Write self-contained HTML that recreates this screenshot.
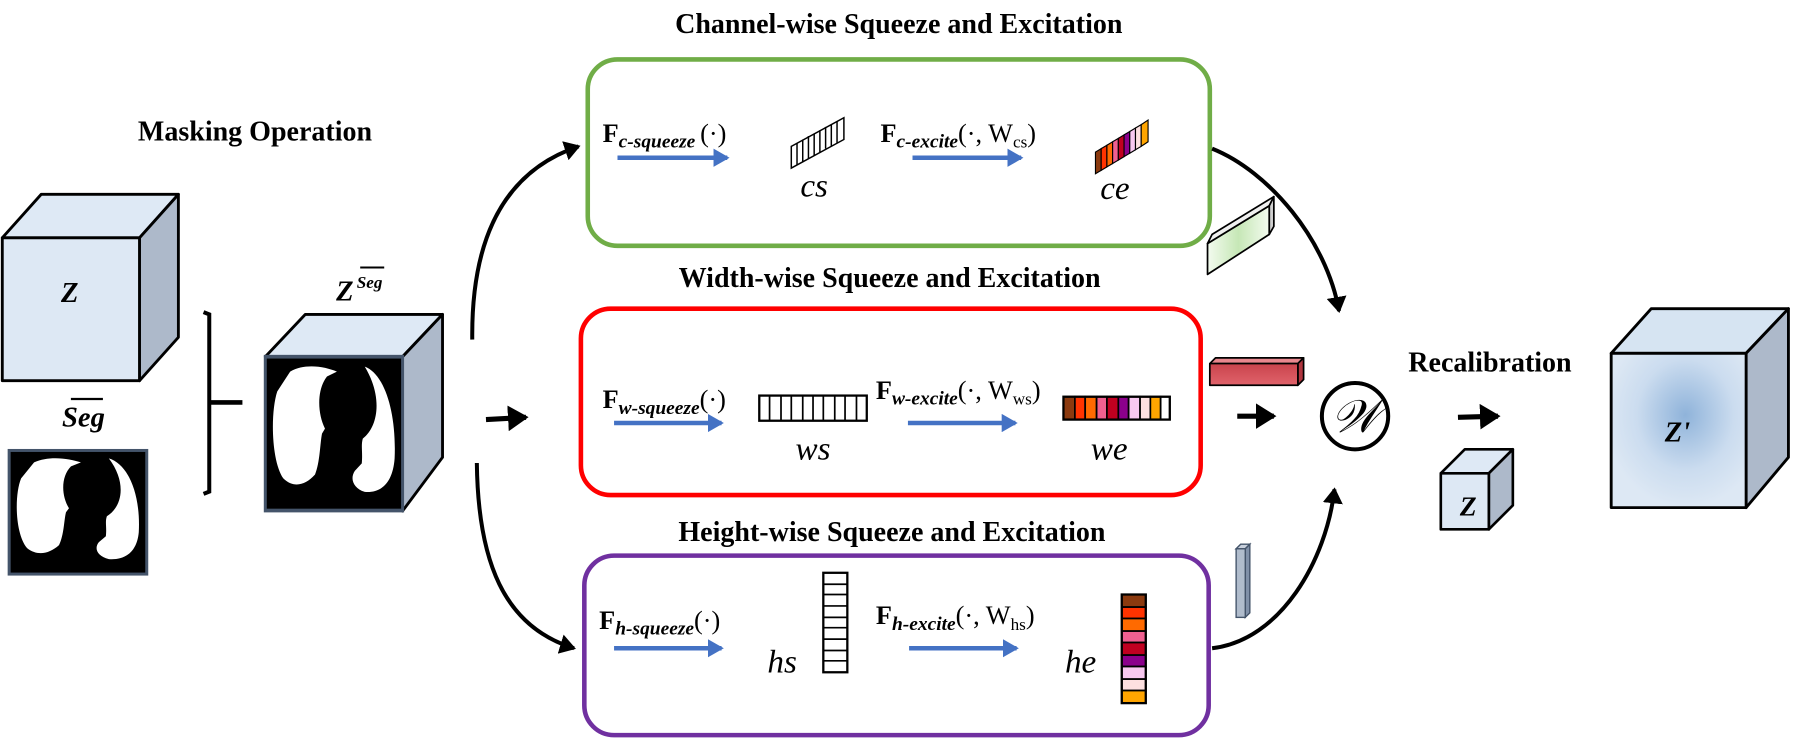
<!DOCTYPE html>
<html><head><meta charset="utf-8"><style>
html,body{margin:0;padding:0;background:#fff;}
svg{display:block;}
text{font-family:"Liberation Serif",serif;}
</style></head><body>
<svg width="1793" height="742" viewBox="0 0 1568 649" preserveAspectRatio="none" xmlns="http://www.w3.org/2000/svg">
<defs>
<marker id="ab" markerWidth="4" markerHeight="4" refX="3" refY="2" orient="auto" markerUnits="strokeWidth"><path d="M0,0 L3.5,2 L0,4 Z" fill="#4472c4"/></marker>
<marker id="ak" markerWidth="5" markerHeight="5" refX="3.5" refY="2.5" orient="auto" markerUnits="strokeWidth"><path d="M0,0 L4,2.5 L0,5 Z" fill="#000"/></marker>
<radialGradient id="rg" cx="0.55" cy="0.4" r="0.6"><stop offset="0" stop-color="#8fb3da"/><stop offset="0.6" stop-color="#cbdcef"/><stop offset="1" stop-color="#dde8f4"/></radialGradient>
<linearGradient id="gg" x1="0" y1="0" x2="1" y2="0"><stop offset="0" stop-color="#f3fbef"/><stop offset="0.5" stop-color="#c6e7b6"/><stop offset="1" stop-color="#f3fbef"/></linearGradient>
<linearGradient id="rr" x1="0" y1="0" x2="0" y2="1"><stop offset="0" stop-color="#c9434c"/><stop offset="1" stop-color="#e0636b"/></linearGradient>
<g id="lungs">
<rect x="0" y="0" width="138" height="124" fill="#000" stroke="#44546a" stroke-width="3"/>
<path d="M25,12 C40,5 60,8 72,12 L62,16 C52,26 52,45 60,58 L57,62 C55,70 55,85 50,95 C40,104 28,106 18,98 C6,84 5,45 12,28 Z" fill="#fff"/>
<path d="M100,8 C120,14 132,45 130,82 C128,104 114,110 100,109 C88,106 85,98 90,92 L97,86 C98,76 96,72 98,66 C114,56 118,32 100,8 Z" fill="#fff"/>
</g>
</defs>

<!-- titles -->
<g font-weight="bold" font-size="24.5" text-anchor="middle">
<text x="786" y="29">Channel-wise Squeeze and Excitation</text>
<text x="223" y="123">Masking Operation</text>
<text x="778" y="251">Width-wise Squeeze and Excitation</text>
<text x="780" y="473">Height-wise Squeeze and Excitation</text>
<text x="1303" y="325">Recalibration</text>
</g>

<!-- boxes -->
<rect x="514" y="52" width="544" height="163" rx="26" fill="none" stroke="#70ad47" stroke-width="4"/>
<rect x="508" y="270" width="542" height="163" rx="26" fill="none" stroke="#ff0000" stroke-width="4"/>
<rect x="511" y="486" width="546" height="157" rx="26" fill="none" stroke="#7030a0" stroke-width="4"/>

<!-- Z cube -->
<g stroke="#000" stroke-width="2.5" stroke-linejoin="round">
<polygon points="2,208 36,170 156,170 122,208" fill="#dee9f5"/>
<polygon points="122,208 156,170 156,295 122,333" fill="#adb9ca"/>
<rect x="2" y="208" width="120" height="125" fill="#dde8f4"/>
</g>
<text x="61" y="264" font-size="25" font-weight="bold" font-style="italic" text-anchor="middle">Z</text>

<!-- Seg -->
<line x1="62" y1="349" x2="90" y2="349" stroke="#000" stroke-width="2"/>
<text x="73" y="373" font-size="25" font-weight="bold" font-style="italic" text-anchor="middle">Seg</text>
<use href="#lungs" transform="translate(8,394) scale(0.872,0.872)"/>

<!-- bracket -->
<path d="M178,273 L183,275 L183,430 L178,432" fill="none" stroke="#000" stroke-width="3.5"/>
<line x1="183" y1="352" x2="212" y2="352" stroke="#000" stroke-width="4"/>

<!-- Z seg label -->
<text x="294" y="263" font-size="25" font-weight="bold" font-style="italic">Z</text>
<text x="312" y="252" font-size="15" font-weight="bold" font-style="italic">Seg</text>
<line x1="315" y1="234" x2="336" y2="234" stroke="#000" stroke-width="1.8"/>

<!-- Z seg cube -->
<g stroke="#000" stroke-width="2.5" stroke-linejoin="round">
<polygon points="232,312 267,275 387,275 352,312" fill="#dee9f5"/>
<polygon points="352,312 387,275 387,400 352,447" fill="#adb9ca"/>
</g>
<use href="#lungs" transform="translate(232,312) scale(0.87,1.085)"/>

<!-- arrows from Z seg -->
<path d="M413,297 C412,210 440,150 506,128" fill="none" stroke="#000" stroke-width="3.5" marker-end="url(#ak)"/>
<line x1="425" y1="367" x2="460" y2="365" stroke="#000" stroke-width="4.5" marker-end="url(#ak)"/>
<path d="M417,405 C418,490 440,548 502,567" fill="none" stroke="#000" stroke-width="3.5" marker-end="url(#ak)"/>

<!-- blue arrows -->
<g stroke="#4472c4" stroke-width="4" marker-end="url(#ab)">
<line x1="540" y1="138" x2="636" y2="138"/>
<line x1="798" y1="138" x2="893" y2="138"/>
<line x1="537" y1="370" x2="631" y2="370"/>
<line x1="794" y1="370" x2="888" y2="370"/>
<line x1="537" y1="567" x2="631" y2="567"/>
<line x1="795" y1="567" x2="889" y2="567"/>
</g>

<!-- F labels -->
<g font-size="23">
<text x="527" y="124"><tspan font-weight="bold">F</tspan><tspan font-size="17" font-weight="bold" font-style="italic" dy="5">c-squeeze </tspan><tspan dy="-5">(·)</tspan></text>
<text x="770" y="124"><tspan font-weight="bold">F</tspan><tspan font-size="17" font-weight="bold" font-style="italic" dy="5">c-excite</tspan><tspan dy="-5">(·, W</tspan><tspan font-size="15" dy="5">cs</tspan><tspan dy="-5">)</tspan></text>
<text x="527" y="357"><tspan font-weight="bold">F</tspan><tspan font-size="17" font-weight="bold" font-style="italic" dy="5">w-squeeze</tspan><tspan dy="-5">(·)</tspan></text>
<text x="766" y="349"><tspan font-weight="bold">F</tspan><tspan font-size="17" font-weight="bold" font-style="italic" dy="5">w-excite</tspan><tspan dy="-5">(·, W</tspan><tspan font-size="15" dy="5">ws</tspan><tspan dy="-5">)</tspan></text>
<text x="524" y="550"><tspan font-weight="bold">F</tspan><tspan font-size="17" font-weight="bold" font-style="italic" dy="5">h-squeeze</tspan><tspan dy="-5">(·)</tspan></text>
<text x="766" y="546"><tspan font-weight="bold">F</tspan><tspan font-size="17" font-weight="bold" font-style="italic" dy="5">h-excite</tspan><tspan dy="-5">(·, W</tspan><tspan font-size="15" dy="5">hs</tspan><tspan dy="-5">)</tspan></text>
</g>

<!-- italic labels -->
<g font-size="29" font-style="italic" text-anchor="middle">
<text x="712" y="172">cs</text>
<text x="975" y="174">ce</text>
<text x="711" y="402">ws</text>
<text x="970" y="402">we</text>
<text x="684" y="588">hs</text>
<text x="945" y="588">he</text>
</g>

<!-- cs skewed vector -->
<g stroke="#000" stroke-width="1.3">
<polygon points="692,128 738,103 738,122 692,147" fill="#fff"/>
<line x1="697" y1="125" x2="697" y2="144"/><line x1="702" y1="122" x2="702" y2="142"/><line x1="707" y1="119" x2="707" y2="139"/><line x1="712" y1="117" x2="712" y2="136"/><line x1="717" y1="114" x2="717" y2="133"/><line x1="722" y1="111" x2="722" y2="130"/><line x1="727" y1="109" x2="727" y2="128"/><line x1="732" y1="106" x2="732" y2="125"/>
</g>
<!-- ce colored -->
<g stroke="#000" stroke-width="1">
<polygon points="958,133 963,130 963,149 958,152" fill="#8b3a0f"/>
<polygon points="963,130 968,127 968,146 963,149" fill="#ff3300"/>
<polygon points="968,127 973,124 973,143 968,146" fill="#ff6a00"/>
<polygon points="973,124 978,121 978,140 973,143" fill="#f06090"/>
<polygon points="978,121 983,118 983,137 978,140" fill="#c00020"/>
<polygon points="983,118 988,115 988,134 983,137" fill="#8b008b"/>
<polygon points="988,115 993,112 993,131 988,134" fill="#f8c8f0"/>
<polygon points="993,112 998,109 998,128 993,131" fill="#fde0e0"/>
<polygon points="998,109 1004,105 1004,124 998,128" fill="#ffa500"/>
</g>

<!-- ws -->
<rect x="664" y="346" width="94" height="22" fill="#fff" stroke="#000" stroke-width="2"/>
<g stroke="#000" stroke-width="1.5">
<line x1="673" y1="346" x2="673" y2="368"/><line x1="683" y1="346" x2="683" y2="368"/><line x1="692" y1="346" x2="692" y2="368"/><line x1="702" y1="346" x2="702" y2="368"/><line x1="711" y1="346" x2="711" y2="368"/><line x1="720" y1="346" x2="720" y2="368"/><line x1="730" y1="346" x2="730" y2="368"/><line x1="739" y1="346" x2="739" y2="368"/><line x1="749" y1="346" x2="749" y2="368"/>
</g>
<!-- we -->
<g stroke="#000" stroke-width="1.5">
<rect x="930" y="347" width="10" height="20" fill="#8b3a0f"/>
<rect x="940" y="347" width="9" height="20" fill="#ff3300"/>
<rect x="949" y="347" width="10" height="20" fill="#ff6a00"/>
<rect x="959" y="347" width="9" height="20" fill="#f06090"/>
<rect x="968" y="347" width="10" height="20" fill="#c00020"/>
<rect x="978" y="347" width="9" height="20" fill="#8b008b"/>
<rect x="987" y="347" width="10" height="20" fill="#f8c8f0"/>
<rect x="997" y="347" width="9" height="20" fill="#fde0e0"/>
<rect x="1006" y="347" width="9" height="20" fill="#ffa500"/>
<rect x="1015" y="347" width="8" height="20" fill="#fff"/>
<rect x="930" y="347" width="93" height="20" fill="none" stroke-width="2"/>
</g>

<!-- hs column -->
<g stroke="#000" stroke-width="1.5" fill="#fff">
<rect x="720" y="501" width="21" height="87" stroke-width="2"/>
<line x1="720" y1="511" x2="741" y2="511"/><line x1="720" y1="520" x2="741" y2="520"/><line x1="720" y1="530" x2="741" y2="530"/><line x1="720" y1="540" x2="741" y2="540"/><line x1="720" y1="549" x2="741" y2="549"/><line x1="720" y1="559" x2="741" y2="559"/><line x1="720" y1="569" x2="741" y2="569"/><line x1="720" y1="578" x2="741" y2="578"/>
</g>
<!-- he column -->
<g stroke="#000" stroke-width="1.5">
<rect x="981" y="520" width="21" height="11" fill="#8b3a0f"/>
<rect x="981" y="531" width="21" height="10" fill="#ff3300"/>
<rect x="981" y="541" width="21" height="11" fill="#ff6a00"/>
<rect x="981" y="552" width="21" height="10" fill="#f06090"/>
<rect x="981" y="562" width="21" height="11" fill="#c00020"/>
<rect x="981" y="573" width="21" height="10" fill="#8b008b"/>
<rect x="981" y="583" width="21" height="11" fill="#f8c8f0"/>
<rect x="981" y="594" width="21" height="10" fill="#fde0e0"/>
<rect x="981" y="604" width="21" height="11" fill="#ffa500"/>
<rect x="981" y="520" width="21" height="95" fill="none" stroke-width="2"/>
</g>

<!-- side slabs -->
<g stroke="#000" stroke-width="1.5" stroke-linejoin="round">
<polygon points="1056,213 1110,180 1110,205 1056,240" fill="url(#gg)"/>
<polygon points="1056,213 1060,205 1114,172 1110,180" fill="#f0f0f0"/>
<polygon points="1110,180 1114,172 1114,198 1110,205" fill="#d0d0d0"/>
<polygon points="1058,318 1063,313 1140,313 1135,318" fill="#e8878e"/>
<polygon points="1135,318 1140,313 1140,332 1135,337" fill="#b0353e"/>
<rect x="1058" y="318" width="77" height="19" fill="url(#rr)"/>
</g>
<g stroke="#44546a" stroke-width="1.2">
<polygon points="1081,480 1085,476 1093,476 1089,480" fill="#c8d0dc"/>
<polygon points="1089,480 1093,476 1093,536 1089,540" fill="#8090a8"/>
<rect x="1081" y="480" width="8" height="60" fill="#b0bccc"/>
</g>

<!-- curves to W -->
<path d="M1060,130 C1110,150 1160,210 1171,272" fill="none" stroke="#000" stroke-width="3.5" marker-end="url(#ak)"/>
<path d="M1060,567 C1120,560 1160,490 1167,428" fill="none" stroke="#000" stroke-width="3.5" marker-end="url(#ak)"/>
<line x1="1082" y1="364" x2="1114" y2="364" stroke="#000" stroke-width="4.5" marker-end="url(#ak)"/>

<!-- W circle -->
<circle cx="1185" cy="364" r="29" fill="#fff" stroke="#000" stroke-width="3.5"/>
<text x="1185" y="378" font-size="40" font-style="italic" text-anchor="middle" font-family="DejaVu Serif,serif">𝒲</text>

<line x1="1275" y1="365" x2="1310" y2="364" stroke="#000" stroke-width="4.5" marker-end="url(#ak)"/>

<!-- small Z cube -->
<g stroke="#000" stroke-width="2.3" stroke-linejoin="round">
<polygon points="1260,414 1281,393 1323,393 1302,414" fill="#dee9f5"/>
<polygon points="1302,414 1323,393 1323,442 1302,463" fill="#adb9ca"/>
<rect x="1260" y="414" width="42" height="49" fill="#dde8f4"/>
</g>
<text x="1284" y="451" font-size="24" font-weight="bold" font-style="italic" text-anchor="middle">Z</text>

<!-- Z' cube -->
<g stroke="#000" stroke-width="2.5" stroke-linejoin="round">
<polygon points="1409,309 1444,270 1564,270 1527,309" fill="#d6e4f2"/>
<polygon points="1527,309 1564,270 1564,400 1527,444" fill="#adb9ca"/>
<rect x="1409" y="309" width="118" height="135" fill="url(#rg)"/>
</g>
<text x="1467" y="386" font-size="25" font-weight="bold" font-style="italic" text-anchor="middle">Z'</text>
</svg>
</body></html>
